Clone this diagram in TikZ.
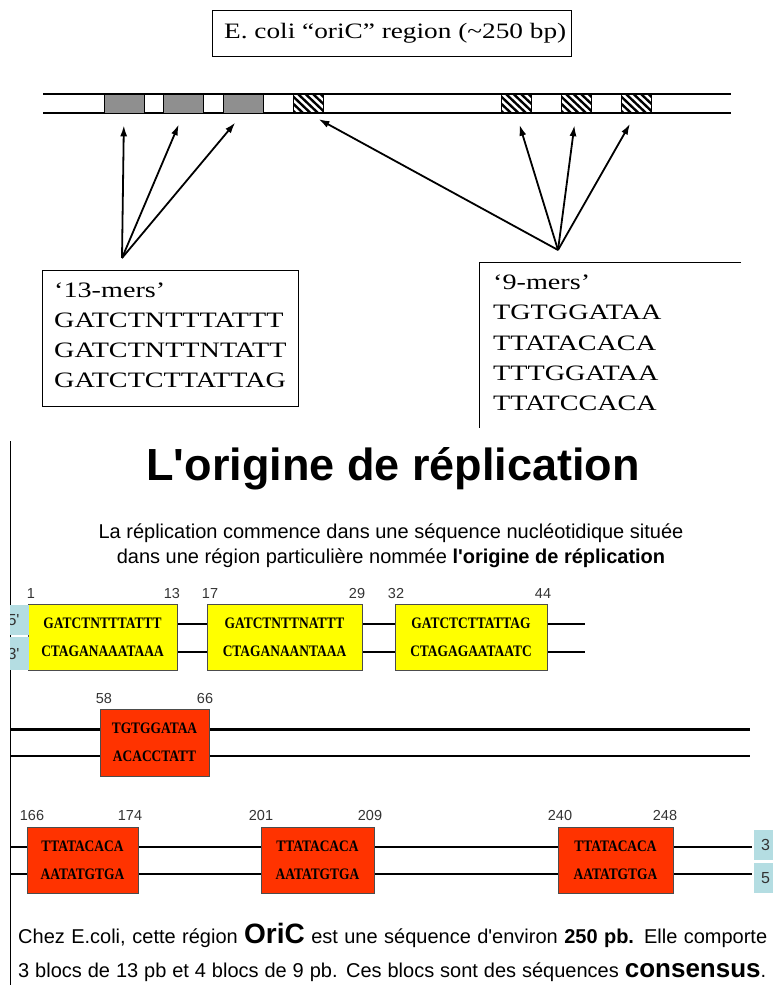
\documentclass[tikz,border=0pt]{standalone}
\usepackage{fontspec}
\setmainfont{Liberation Serif}
\setsansfont{Liberation Sans}
\newfontfamily\widefont[FakeStretch=1.28]{Liberation Serif}
\newfontfamily\headfont[FakeStretch=1.24]{Liberation Serif}
\newfontfamily\seqfont[FakeStretch=0.84]{Liberation Serif}
\usepackage{tikz}
\usetikzlibrary{arrows.meta,positioning}
\definecolor{oriyellow}{HTML}{FFFF00}
\definecolor{orired}{HTML}{FF3300}
\definecolor{oriblue}{HTML}{B4DDE2}
\definecolor{numgray}{HTML}{333333}
\definecolor{boxgray}{HTML}{8F8F8F}
\newcommand{\fsz}[1]{\fontsize{#1}{#1}\selectfont}

\begin{document}
\begin{tikzpicture}[x=1pt,y=-1pt,
  strand/.style={line width=2.2pt},
  motif13/.style={draw,line width=.6pt,fill=boxgray,minimum width=40pt,minimum height=19pt,inner sep=0pt},
  motif9/.style={draw,line width=.6pt,minimum width=30pt,minimum height=19pt,inner sep=0pt},
  hatch/.style={line width=2.4pt},
  ptr/.style={line width=1.8pt,-{Latex[length=11pt,width=7pt]},shorten >=12pt},
  seqline/.style={anchor=base west,inner sep=0pt,font=\widefont\fsz{22}},
  seqbox/.style={draw=black!70,line width=.6pt,minimum height=66pt,inner sep=0pt,align=center,
    font=\seqfont\bfseries\fontsize{16}{28}\selectfont},
  yellowbox/.style={seqbox,fill=oriyellow},
  redbox/.style={seqbox,fill=orired},
  posnum/.style={anchor=base,inner sep=0pt,text=numgray,font=\sffamily\fsz{14.5}},
  endlab/.style={fill=oriblue,inner sep=0pt,minimum height=30pt,font=\sffamily\fsz{16},text=numgray},
  textline/.style={anchor=base west,inner sep=0pt,font=\sffamily\fsz{20}}]
  \clip (0,0) rectangle (773,985);

  \node[draw,line width=.8pt,minimum width=359pt,minimum height=46pt,inner sep=0pt] (ttlbox) at (391.5,33) {};
  \node[anchor=base west,inner sep=0pt,font=\headfont\fsz{22}] (ttl) at (224,38) {E. coli “oriC” region (\textasciitilde250 bp)};
  \foreach \y in {94,113}{\draw[strand] (43,\y)--(731,\y);}
  \foreach \gx [count=\i] in {124,183.5,243}{\node[motif13] (g\i) at (\gx,103.5) {};}
  \foreach \hx [count=\i] in {308,516,576,636}{
    \begin{scope}
      \clip (\hx-15,94) rectangle (\hx+15,113);
      \foreach \k in {-3,...,3}{\draw[hatch] (\hx+\k*7.5-10,94)--++(20,19);}
    \end{scope}
    \node[motif9] (h\i) at (\hx,103.5) {};
  }
  \coordinate (c13) at (122,258);
  \coordinate (c9) at (558,250);
  \foreach \i in {1,2,3}{\draw[ptr] (c13)--(g\i.south);}
  \foreach \i in {1,...,4}{\draw[ptr] (c9)--(h\i.south);}

  \node[draw,line width=.9pt,minimum width=256pt,minimum height=136pt,inner sep=0pt,anchor=north west] (box13) at (42,270) {};
  \foreach \s [count=\i] in {‘13-mers’,GATCTNTTTATTT,GATCTNTTNTATT,GATCTCTTATTAG}
    {\node[seqline] at (54,{267+30*\i}) {\s};}
  \draw[line width=.9pt] (741,262)--(479,262)--(479,428);
  \foreach \s [count=\i] in {‘9-mers’,TGTGGATAA,TTATACACA,TTTGGATAA,TTATCCACA}
    {\node[seqline] at (493,{259.25+30.25*\i}) {\s};}

  \draw[line width=1pt] (10,441)--(10,985);
  \node[anchor=base,inner sep=0pt,font=\sffamily\bfseries\fsz{45}] (heading) at (393,480) {L\textquotesingle origine de réplication};
  \node[anchor=base,inner sep=0pt,font=\sffamily\fsz{20}] (intro1) at (391,538) {La réplication commence dans une séquence nucléotidique située};
  \node[anchor=base,inner sep=0pt,font=\sffamily\fsz{20}] (intro2) at (391,563) {dans une région particulière nommée \textbf{l\textquotesingle origine de réplication}};

  \foreach \y in {624,652}{\draw[strand] (28,\y)--(585,\y);}
  \node[yellowbox,minimum width=149pt] (y1) at (102.5,637.5) {GATCTNTTTATTT\\CTAGANAAATAAA};
  \node[yellowbox,minimum width=155pt] (y2) at (284.5,637.5) {GATCTNTTNATTT\\CTAGANAANTAAA};
  \node[yellowbox,minimum width=152pt] (y3) at (471,637.5) {GATCTCTTATTAG\\CTAGAGAATAATC};
  \foreach \n/\x in {1/31,13/172,17/210,29/357,32/396,44/543}{\node[posnum] at (\x,598) {\n};}
  \begin{scope}
    \clip (10,600) rectangle (40,672);
    \node[endlab,minimum width=30pt] (l5) at (13.5,620) {5\textquotesingle};
    \node[endlab,minimum width=30pt,minimum height=33pt] (l3) at (13.5,653.5) {3\textquotesingle};
  \end{scope}

  \foreach \y in {729.5,756}{\draw[strand] (10,\y)--(750,\y);}
  \node[redbox,minimum width=109pt,minimum height=67pt] (r1) at (154.5,742.5) {TGTGGATAA\\ACACCTATT};
  \foreach \n/\x in {58/104,66/205}{\node[posnum] at (\x,703) {\n};}

  \foreach \y in {847,874}{\draw[strand] (10,\y)--(752,\y);}
  \foreach \bx/\bw [count=\i] in {82.5/111,317.5/113,615.5/115}
    {\node[redbox,minimum width=\bw pt] (b\i) at (\bx,860) {TTATACACA\\AATATGTGA};}
  \foreach \n/\x in {166/32,174/130,201/261,209/370,240/560,248/665}{\node[posnum] at (\x,820) {\n};}
  \node[endlab,minimum width=36pt,text width=30pt,align=left] (r3) at (772,845) {\hspace*{4pt}3};
  \node[endlab,minimum width=36pt,text width=30pt,align=left] (r5) at (772,878) {\hspace*{4pt}5};

  \node[textline] (note1) at (18,943)
    {\makebox[749pt][s]{Chez E.coli, cette région {\bfseries\fsz{28}OriC} est une séquence d\textquotesingle environ \textbf{250 pb.} Elle comporte}};
  \node[textline] (note2) at (18,977)
    {\makebox[748pt][s]{3 blocs de 13 pb et 4 blocs de 9 pb. Ces blocs sont des séquences {\bfseries\fsz{26}consensus}.}};
\end{tikzpicture}
\end{document}
